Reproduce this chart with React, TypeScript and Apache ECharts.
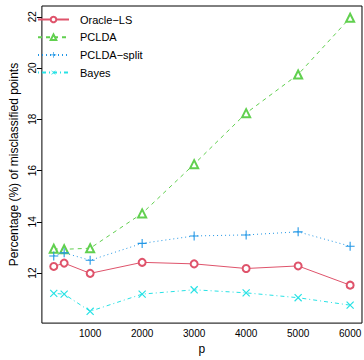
import React, { useEffect, useRef } from "react";
import * as echarts from "echarts";

const pValues = [300, 500, 1000, 2000, 3000, 4000, 5000, 6000];
const oracleLS = [12.26, 12.39, 11.99, 12.42, 12.36, 12.18, 12.28, 11.53];
const pclda = [12.95, 12.93, 12.97, 14.33, 16.25, 18.24, 19.75, 21.96];
const pcldaSplit = [12.67, 12.79, 12.5, 13.16, 13.45, 13.49, 13.61, 13.05];
const bayes = [11.21, 11.18, 10.51, 11.18, 11.35, 11.23, 11.04, 10.75];
const xTicks = [1000, 2000, 3000, 4000, 5000, 6000];
const yTicks = [12, 14, 16, 18, 20, 22];

const FONT = "Liberation Sans, Arial, Helvetica, sans-serif";
const PLUS = "path://M0,4.4h10v1.2h-10z M4.4,0h1.2v10h-1.2z";

export default function App() {
  const ref = useRef<HTMLDivElement>(null);
  useEffect(() => {
    if (!ref.current) return;
    const chart = echarts.init(ref.current, undefined, { renderer: "svg" });
    const mk = (arr: number[]) => pValues.map((p, i) => [p, arr[i]]);
    const series: any[] = [
      {
        name: "Oracle\u2212LS",
        color: "#DF536B",
        data: mk(oracleLS),
        symbol: "emptyCircle",
        symbolSize: 7,
        lineStyle: { type: "solid" },
      },
      {
        name: "PCLDA",
        color: "#61D04F",
        data: mk(pclda),
        symbol: "emptyTriangle",
        symbolSize: 8,
        lineStyle: { type: [4, 4] },
      },
      {
        name: "PCLDA\u2212split",
        color: "#2297E6",
        data: mk(pcldaSplit),
        symbol: PLUS,
        symbolSize: 9,
        lineStyle: { type: [1, 3] },
      },
      {
        name: "Bayes",
        color: "#28E2E5",
        data: mk(bayes),
        symbol: PLUS,
        symbolRotate: 45,
        symbolSize: 10,
        lineStyle: { type: [1, 3, 4, 3] },
      },
    ].map((s) => ({
      type: "line",
      showSymbol: true,
      ...s,
      lineStyle: { ...s.lineStyle, width: 1, color: s.color },
      itemStyle: {
        color: s.color,
        borderColor: s.color,
        borderWidth: s.symbol.startsWith("path") ? 0 : 1,
      },
      emphasis: { disabled: true },
    }));

    chart.setOption({
      animation: false,
      backgroundColor: "#fff",
      textStyle: { fontFamily: FONT },
      grid: {
        left: 35,
        right: 2,
        top: 6,
        bottom: 27,
        show: true,
        borderColor: "#000",
        borderWidth: 1,
        backgroundColor: "transparent",
      },
      legend: {
        orient: "vertical",
        left: 37,
        top: 14,
        itemWidth: 31,
        itemHeight: 7,
        itemGap: 6.7,
        textStyle: { fontFamily: FONT, fontSize: 11, color: "#000", padding: [0, 0, 0, 6] },
        padding: 0,
      },
      xAxis: {
        type: "value",
        min: 72,
        max: 6228,
        name: "p",
        nameLocation: "middle",
        nameGap: 15,
        nameTextStyle: { fontFamily: FONT, fontSize: 12, color: "#000" },
        axisLine: { show: false },
        axisTick: { show: false },
        splitLine: { show: false },
        axisLabel: {
          customValues: xTicks,
          formatter: (v: number) => String(v),
          fontFamily: FONT,
          fontSize: 10,
          color: "#000",
          margin: 5,
        },
      },
      yAxis: {
        type: "value",
        min: 10.05,
        max: 22.42,
        name: "Percentage (%) of misclassified points",
        nameLocation: "middle",
        nameRotate: 90,
        nameGap: 19,
        nameTextStyle: { fontFamily: FONT, fontSize: 12, color: "#000" },
        axisLine: { show: false },
        axisTick: {
          show: true,
          customValues: yTicks,
          length: 5,
          lineStyle: { color: "#000", width: 1 },
        },
        splitLine: { show: false },
        axisLabel: {
          customValues: yTicks,
          formatter: (v: number) => String(v),
          rotate: 90,
          fontFamily: FONT,
          fontSize: 10,
          color: "#000",
          margin: 4,
        },
      },
      series,
    });
    return () => chart.dispose();
  }, []);
  return <div ref={ref} style={{ width: 364, height: 360 }} />;
}

const _style = document.createElement("style");
_style.textContent = "body{margin:0}";
document.head.appendChild(_style);
